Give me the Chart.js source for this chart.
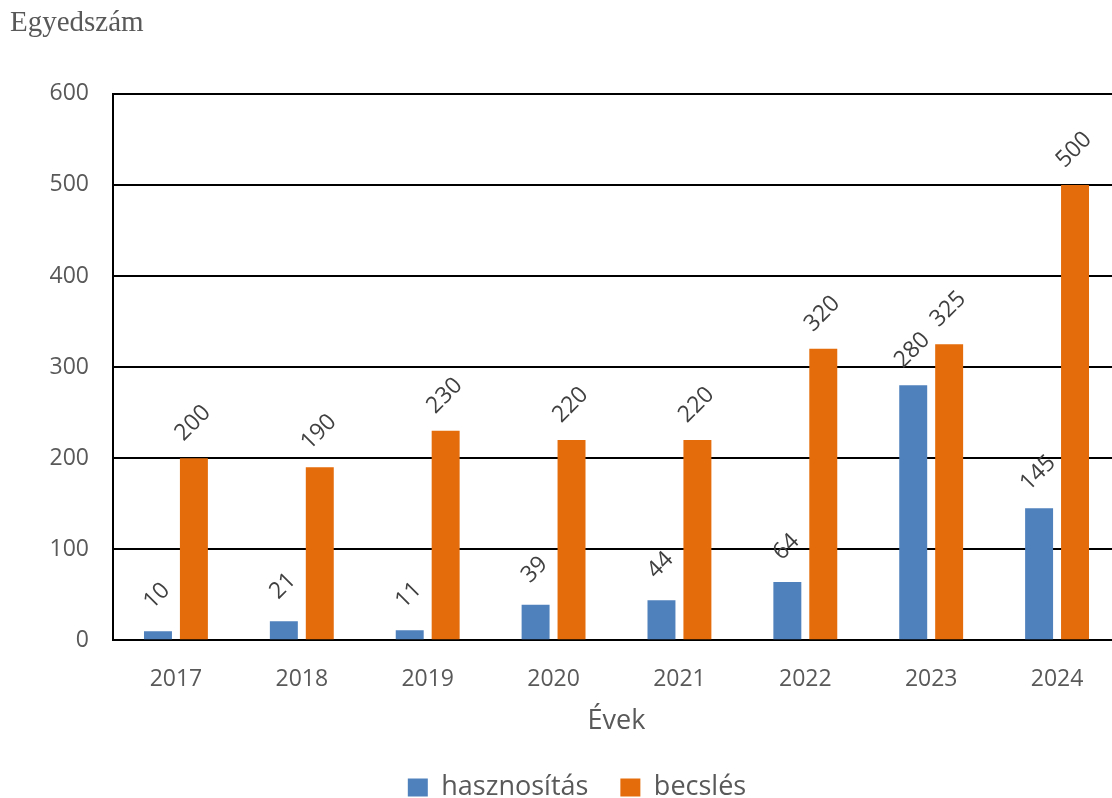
<!DOCTYPE html>
<html>
<head>
<meta charset="utf-8">
<script src="https://cdn.jsdelivr.net/npm/chart.js@4.4.0/dist/chart.umd.min.js"></script>
<style>
html,body{margin:0;padding:0;background:#fff;overflow:hidden;width:1112px;height:798px;}
#wrap{position:absolute;left:0;top:0;width:1157px;height:811px;}
</style>
</head>
<body>
<div id="wrap"><canvas id="c"></canvas></div>
<script>
const categories = ['2017','2018','2019','2020','2021','2022','2023','2024'];
const hasznositas = [10, 21, 11, 39, 44, 64, 280, 145];
const becsles = [200, 190, 230, 220, 220, 320, 325, 500];
const yTicks = [0, 100, 200, 300, 400, 500, 600];

const labelPlugin = {
  id: 'rotLabels',
  afterLayout(chart) {
    if (chart.legend) { chart.legend.left += 12; chart.legend.right += 12; }
  },
  afterDatasetsDraw(chart) {
    const ctx = chart.ctx;
    ctx.save();
    ctx.font = '23px "Open Sans"';
    ctx.fillStyle = '#404040';
    ctx.textAlign = 'center';
    ctx.textBaseline = 'middle';
    chart.data.datasets.forEach((ds, i) => {
      const meta = chart.getDatasetMeta(i);
      meta.data.forEach((bar, j) => {
        ctx.save();
        ctx.translate(bar.x - 1, bar.y - 35);
        ctx.rotate(-Math.PI / 4);
        ctx.fillText(String(ds.data[j]), 0, 0);
        ctx.restore();
      });
    });
    ctx.restore();
  }
};

new Chart(document.getElementById('c'), {
  type: 'bar',
  data: {
    labels: categories,
    datasets: [
      { label: 'hasznosítás', data: hasznositas, backgroundColor: '#4f81bd', borderWidth: 0 },
      { label: 'becslés', data: becsles, backgroundColor: '#e46c0a', borderWidth: 0 }
    ]
  },
  options: {
    responsive: true,
    maintainAspectRatio: false,
    animation: false,
    layout: { padding: { left: 10, right: 37, top: 4, bottom: 0 } },
    datasets: { bar: { categoryPercentage: 0.571, barPercentage: 0.778 } },
    plugins: {
      tooltip: { enabled: false },
      title: {
        display: true,
        text: 'Egyedszám',
        align: 'start',
        color: '#595959',
        font: { family: '"Liberation Serif"', size: 29, weight: 'normal' },
        padding: { top: 2, bottom: 53 }
      },
      legend: {
        position: 'bottom',
        labels: {
          color: '#595959',
          font: { family: '"Open Sans"', size: 27 },
          boxWidth: 20,
          boxHeight: 18,
          padding: 32,
          useBorderRadius: false
        }
      }
    },
    scales: {
      x: {
        afterFit(scale) { scale.height -= 5; },
        grid: { display: false },
        border: { display: true, color: '#000', width: 2 },
        ticks: { color: '#595959', font: { family: '"Open Sans"', size: 23, lineHeight: 1.0 }, padding: 20 },
        title: { display: true, text: 'Évek', color: '#595959', font: { family: '"Open Sans"', size: 27, lineHeight: 1.1 }, padding: { top: 0, bottom: 6 } }
      },
      y: {
        min: 0, max: 600,
        afterBuildTicks(scale) { scale.ticks = yTicks.map(v => ({ value: v })); },
        afterFit(scale) { scale.width = 103; },
        grid: { color: '#000', lineWidth: 2, drawTicks: false },
        border: { display: true, color: '#000', width: 2 },
        ticks: { color: '#595959', font: { family: '"Open Sans"', size: 23 }, padding: 24 }
      }
    }
  },
  plugins: [labelPlugin]
});
</script>
</body>
</html>
